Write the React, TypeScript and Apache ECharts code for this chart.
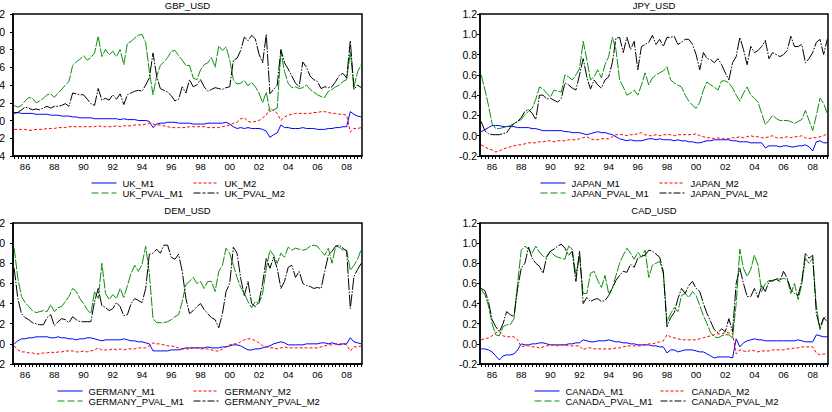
import React, { useEffect, useRef } from "react";
import * as echarts from "echarts";

// Quarterly observations, first one 1985Q2 (1985.25), last one 2009Q1 (2009.0)
const FIRST_OBS = 1985.25;
const N_OBS = 96;
const dates: number[] = Array.from({ length: N_OBS }, (_, i) => FIRST_OBS + i * 0.25);
const yearLabels = [1986, 1988, 1990, 1992, 1994, 1996, 1998, 2000, 2002, 2004, 2006, 2008];

// ---------------- GBP_USD ----------------
const UK_M1 = [
  0.09, 0.09, 0.08,
  0.08, 0.08, 0.08, 0.07,
  0.07, 0.07, 0.07, 0.06,
  0.06, 0.06, 0.05, 0.05,
  0.05, 0.04, 0.04, 0.03,
  0.03, 0.03, 0.03, 0.02,
  0.02, 0.02, 0.02, 0.02,
  0.02, 0.02, 0.01, 0.02,
  0.01, 0.01, 0.01, 0.0,
  0.0, 0.0, -0.01, -0.08,
  -0.04, -0.03, -0.03, -0.02,
  -0.02, -0.02, -0.03, -0.03,
  -0.03, -0.03, -0.04, -0.04,
  -0.04, -0.04, -0.03, -0.03,
  -0.03, -0.03, -0.03, -0.02,
  -0.04, -0.07, -0.09, -0.08,
  -0.09, -0.08, -0.09, -0.09,
  -0.09, -0.1, -0.12, -0.19,
  -0.16, -0.14, -0.05, -0.08,
  -0.08, -0.09, -0.09, -0.09,
  -0.08, -0.09, -0.09, -0.09,
  -0.1, -0.1, -0.1, -0.09,
  -0.09, -0.08, -0.08, -0.07,
  -0.07, 0.1, 0.07, 0.05,
  0.04,
];
const UK_M2 = [
  -0.1, -0.1, -0.1,
  -0.1, -0.11, -0.11, -0.1,
  -0.1, -0.1, -0.09, -0.09,
  -0.09, -0.08, -0.08, -0.08,
  -0.07, -0.07, -0.07, -0.07,
  -0.07, -0.07, -0.07, -0.07,
  -0.06, -0.07, -0.07, -0.07,
  -0.07, -0.06, -0.07, -0.06,
  -0.06, -0.06, -0.05, -0.05,
  -0.05, -0.04, -0.03, -0.04,
  -0.05, -0.05, -0.06, -0.07,
  -0.08, -0.08, -0.08, -0.08,
  -0.08, -0.07, -0.07, -0.07,
  -0.07, -0.07, -0.08, -0.08,
  -0.08, -0.08, -0.07, -0.06,
  -0.05, -0.03, -0.02, 0.02,
  0.03, -0.01, -0.02, -0.01,
  0.0, 0.03, 0.06, 0.14,
  0.11, 0.08, 0.0, 0.04,
  0.06, 0.07, 0.08, 0.08,
  0.08, 0.08, 0.08, 0.09,
  0.09, 0.1, 0.1, 0.09,
  0.08, 0.08, 0.07, 0.07,
  0.06, -0.13, -0.09, -0.09,
  -0.08,
];
const UK_PVAL_M1 = [
  0.17, 0.15, 0.17,
  0.22, 0.26, 0.25, 0.2,
  0.22, 0.25, 0.29, 0.3,
  0.26, 0.31, 0.35, 0.4,
  0.44, 0.62, 0.66, 0.69,
  0.73, 0.68, 0.71, 0.76,
  0.95, 0.72, 0.8, 0.74,
  0.78, 0.72, 0.8, 0.63,
  0.87, 0.89, 0.93, 0.96,
  0.97, 0.88, 0.55, 0.29,
  0.5, 0.62, 0.66, 0.71,
  0.78, 0.79, 0.73, 0.68,
  0.62, 0.62, 0.48, 0.46,
  0.57, 0.63, 0.65, 0.71,
  0.6, 0.84, 0.79, 0.83,
  0.68, 0.46, 0.41, 0.42,
  0.45, 0.39, 0.43, 0.38,
  0.31, 0.2, 0.32, 0.1,
  0.12, 0.14, 0.78, 0.55,
  0.42, 0.37, 0.38, 0.36,
  0.37, 0.4, 0.35, 0.32,
  0.29, 0.27, 0.26, 0.33,
  0.35, 0.38, 0.4, 0.44,
  0.46, 0.77, 0.38, 0.55,
  0.63,
];
const UK_PVAL_M2 = [
  0.08, 0.09, 0.12,
  0.15, 0.14, 0.12, 0.13,
  0.12, 0.14, 0.16, 0.14,
  0.16, 0.16, 0.17, 0.19,
  0.16, 0.31, 0.3, 0.29,
  0.29, 0.24, 0.19, 0.17,
  0.36, 0.23, 0.25, 0.23,
  0.29, 0.24, 0.3, 0.18,
  0.29, 0.31, 0.33, 0.34,
  0.33, 0.4, 0.48, 0.76,
  0.5, 0.36, 0.34, 0.32,
  0.28, 0.22, 0.24, 0.38,
  0.31, 0.46, 0.38, 0.4,
  0.46, 0.38, 0.33, 0.35,
  0.37, 0.36, 0.35, 0.37,
  0.38, 0.68, 0.7, 0.79,
  0.94, 0.9, 0.96, 0.92,
  0.75, 0.65, 0.97, 0.3,
  0.35, 0.4, 0.8, 0.65,
  0.58, 0.5, 0.42, 0.38,
  0.66, 0.6, 0.5, 0.46,
  0.44, 0.36, 0.38, 0.37,
  0.38, 0.44, 0.51, 0.53,
  0.48, 0.9, 0.35, 0.4,
  0.37,
];

// ---------------- JPY_USD ----------------
const JAPAN_M1 = [
  0.04, 0.06, 0.08,
  0.1, 0.1, 0.1, 0.09,
  0.09, 0.09, 0.09, 0.08,
  0.08, 0.08, 0.08, 0.07,
  0.07, 0.06, 0.05, 0.05,
  0.05, 0.05, 0.05, 0.05,
  0.04, 0.04, 0.03, 0.03,
  0.03, 0.02, 0.01, 0.02,
  0.03, 0.04, 0.03, 0.03,
  0.02, 0.01, -0.01, -0.03,
  -0.04, -0.05, -0.04, -0.05,
  -0.05, -0.05, -0.04, -0.03,
  -0.03, -0.04, -0.03, -0.04,
  -0.04, -0.04, -0.05, -0.04,
  -0.05, -0.05, -0.06, -0.06,
  -0.07, -0.07, -0.06, -0.05,
  -0.05, -0.04, -0.04, -0.04,
  -0.04, -0.04, -0.05, -0.05,
  -0.06, -0.06, -0.06, -0.07,
  -0.07, -0.07, -0.07, -0.12,
  -0.1, -0.1, -0.1, -0.11,
  -0.1, -0.1, -0.11, -0.11,
  -0.1, -0.1, -0.09, -0.11,
  -0.15, -0.06, -0.05, -0.07,
  -0.07,
];
const JAPAN_M2 = [
  -0.09, -0.11, -0.13,
  -0.14, -0.16, -0.15, -0.13,
  -0.12, -0.11, -0.1, -0.09,
  -0.09, -0.08, -0.07, -0.07,
  -0.07, -0.06, -0.06, -0.05,
  -0.05, -0.06, -0.05, -0.05,
  -0.05, -0.04, -0.04, -0.04,
  -0.03, -0.02, -0.01, -0.03,
  -0.04, -0.04, -0.03, -0.03,
  -0.03, -0.01, 0.01, 0.01,
  0.01, 0.0, 0.01, 0.01,
  0.02, 0.03, 0.01, 0.0,
  0.0, 0.01, 0.0, 0.01,
  0.01, 0.01, 0.0, 0.01,
  0.01, 0.01, 0.01, 0.01,
  0.02, 0.0, -0.01, -0.02,
  -0.02, -0.03, -0.02, -0.03,
  -0.03, -0.03, -0.02, -0.02,
  -0.01, -0.02, -0.01, 0.0,
  -0.01, -0.01, -0.02, -0.02,
  -0.01, 0.0, -0.02, -0.02,
  -0.02, -0.01, -0.02, -0.01,
  -0.01, 0.0, -0.02, -0.03,
  -0.02, -0.02, -0.01, 0.0,
  0.02,
];
const JAPAN_PVAL_M1 = [
  0.6, 0.46, 0.3,
  0.12, 0.07, 0.07, 0.08,
  0.09, 0.1, 0.12, 0.14,
  0.16, 0.21, 0.24, 0.27,
  0.36, 0.48, 0.46, 0.42,
  0.38, 0.45, 0.44, 0.43,
  0.6, 0.58, 0.55, 0.6,
  0.66, 0.93, 0.75, 0.55,
  0.58, 0.65, 0.57, 0.7,
  0.78, 0.97, 0.85, 0.55,
  0.48, 0.4, 0.42, 0.45,
  0.4, 0.5, 0.62, 0.5,
  0.57, 0.6, 0.62, 0.64,
  0.68, 0.55, 0.52, 0.5,
  0.48, 0.4, 0.34, 0.3,
  0.27, 0.33, 0.45, 0.53,
  0.5, 0.48, 0.45, 0.54,
  0.54, 0.52, 0.47, 0.4,
  0.34, 0.42, 0.48, 0.4,
  0.37, 0.33, 0.22, 0.11,
  0.15, 0.2, 0.17, 0.15,
  0.15, 0.15, 0.14, 0.12,
  0.14, 0.16, 0.25, 0.15,
  0.05, 0.2, 0.37, 0.32,
  0.22,
];
const JAPAN_PVAL_M2 = [
  0.14, 0.05, 0.02,
  0.01, 0.01, 0.01, 0.02,
  0.03, 0.08, 0.12, 0.14,
  0.18, 0.24, 0.26, 0.22,
  0.16, 0.4, 0.4, 0.36,
  0.37, 0.35, 0.33, 0.37,
  0.52, 0.5, 0.47, 0.45,
  0.6, 0.76, 0.58, 0.46,
  0.55, 0.5, 0.47, 0.55,
  0.58, 0.72, 0.96, 0.97,
  0.82, 0.97, 0.85, 0.93,
  0.65, 0.88, 0.9, 0.92,
  0.99, 0.9, 0.95, 0.88,
  0.97, 0.97, 0.98, 0.9,
  0.92, 0.95, 0.95, 0.9,
  0.8, 0.65, 0.82, 0.76,
  0.75, 0.72, 0.76, 0.7,
  0.62, 0.55, 0.72, 0.78,
  0.97, 0.85, 0.7, 0.88,
  0.82, 0.84, 0.88, 0.94,
  0.76, 0.82, 0.8, 0.78,
  0.8, 0.84, 0.98, 0.88,
  0.88, 0.9, 0.72, 0.76,
  0.82, 0.92, 0.95, 0.8,
  0.95,
];

// ---------------- DEM_USD ----------------
const GERMANY_M1 = [
  0.0, 0.03, 0.05,
  0.05, 0.06, 0.06, 0.07,
  0.07, 0.07, 0.07, 0.06,
  0.06, 0.07, 0.06, 0.06,
  0.05, 0.05, 0.04, 0.05,
  0.05, 0.06, 0.06, 0.05,
  0.04, 0.03, 0.04, 0.04,
  0.04, 0.04, 0.04, 0.05,
  0.04, 0.03, 0.03, 0.02,
  0.02, 0.01, 0.0, -0.07,
  -0.07, -0.07, -0.07, -0.07,
  -0.06, -0.06, -0.06, -0.05,
  -0.04, -0.04, -0.04, -0.04,
  -0.04, -0.04, -0.03, -0.04,
  -0.04, -0.04, -0.03, -0.03,
  -0.02, -0.01, -0.01, -0.02,
  -0.04, -0.06, -0.06, -0.05,
  -0.05, -0.04, -0.03, -0.02,
  0.0, 0.01, 0.02, 0.01,
  -0.01, -0.01, -0.01, -0.01,
  -0.01, 0.0, 0.0, 0.0,
  0.0, 0.01, 0.01, 0.0,
  0.01, 0.0, -0.01, 0.0,
  0.0, 0.06, 0.02, 0.01,
  0.0,
];
const GERMANY_M2 = [
  -0.02, -0.06, -0.08,
  -0.08, -0.09, -0.09, -0.1,
  -0.1, -0.09, -0.09, -0.08,
  -0.09, -0.08, -0.08, -0.07,
  -0.07, -0.07, -0.08, -0.08,
  -0.07, -0.08, -0.07, -0.06,
  -0.04, -0.06, -0.06, -0.06,
  -0.05, -0.06, -0.05, -0.06,
  -0.05, -0.05, -0.05, -0.04,
  -0.04, -0.04, -0.02, 0.01,
  0.0, 0.0, -0.01, -0.02,
  -0.02, -0.03, -0.04, -0.05,
  -0.05, -0.05, -0.04, -0.04,
  -0.05, -0.05, -0.05, -0.06,
  -0.07, -0.07, -0.05, -0.03,
  -0.01, 0.0, 0.0, 0.02,
  0.04, 0.05, 0.05, 0.03,
  0.01, -0.02, -0.03, -0.04,
  -0.04, -0.05, -0.04, -0.03,
  -0.04, -0.04, -0.04, -0.04,
  -0.04, -0.04, -0.04, -0.04,
  -0.04, -0.03, -0.02, -0.01,
  -0.01, 0.0, 0.0, 0.0,
  -0.01, -0.07, -0.03, -0.03,
  -0.02,
];
const GERMANY_PVAL_M1 = [
  0.95, 0.65, 0.47,
  0.41, 0.37, 0.33, 0.31,
  0.32, 0.33, 0.32, 0.39,
  0.32, 0.36, 0.37, 0.42,
  0.47, 0.55, 0.52, 0.45,
  0.4, 0.34, 0.3, 0.52,
  0.45, 0.8, 0.5, 0.44,
  0.49, 0.45, 0.55, 0.46,
  0.58, 0.7, 0.78, 0.72,
  0.79, 0.97, 0.7, 0.25,
  0.21, 0.21, 0.21, 0.22,
  0.24, 0.27, 0.29, 0.42,
  0.59, 0.62, 0.66, 0.6,
  0.62, 0.55, 0.62, 0.62,
  0.52, 0.72, 0.78, 0.95,
  0.9, 0.78, 0.66, 0.56,
  0.5, 0.42, 0.36, 0.42,
  0.4, 0.5, 0.75, 0.93,
  0.88, 0.8, 0.9, 0.86,
  0.96, 0.93, 0.95, 0.94,
  0.93, 0.94, 0.97, 0.98,
  0.97, 0.92, 0.88, 0.95,
  0.8, 0.97, 0.96, 0.93,
  0.93, 0.73, 0.78, 0.84,
  0.94,
];
const GERMANY_PVAL_M2 = [
  0.75, 0.45, 0.3,
  0.26, 0.24, 0.21, 0.2,
  0.19, 0.19, 0.26, 0.29,
  0.18, 0.22, 0.25, 0.24,
  0.21, 0.27, 0.24, 0.22,
  0.22, 0.22, 0.22, 0.42,
  0.55, 0.38, 0.36, 0.33,
  0.35, 0.41, 0.37, 0.28,
  0.29, 0.4, 0.45, 0.43,
  0.41, 0.55, 0.89, 0.9,
  0.94, 0.9, 0.98, 0.98,
  0.86, 0.84, 0.89, 0.72,
  0.45, 0.3, 0.33, 0.37,
  0.4, 0.34, 0.3, 0.26,
  0.24, 0.16, 0.3, 0.52,
  0.6, 0.96, 0.9, 0.65,
  0.48, 0.62, 0.4, 0.37,
  0.42, 0.6, 0.85, 0.75,
  0.86, 0.75, 0.55, 0.62,
  0.76, 0.78, 0.66, 0.72,
  0.6, 0.58, 0.57, 0.55,
  0.56, 0.55, 0.72, 0.88,
  0.92, 0.97, 0.98, 0.95,
  0.92, 0.35, 0.67, 0.74,
  0.8,
];

// ---------------- CAD_USD ----------------
const CANADA_M1 = [
  -0.05, -0.05, -0.06,
  -0.08, -0.12, -0.16, -0.12,
  -0.11, -0.11, -0.1, -0.06,
  0.0, -0.01, -0.01, 0.0,
  0.0, 0.01, 0.01, 0.0,
  -0.01, -0.01, -0.01, -0.01,
  -0.01, 0.0, 0.0, 0.01,
  0.01, 0.04, 0.03, 0.02,
  0.02, 0.03, 0.03, 0.03,
  0.04, 0.03, 0.02, 0.02,
  0.01, 0.01, 0.0, 0.0,
  -0.01, -0.01, -0.01, -0.01,
  -0.02, -0.02, -0.03, -0.03,
  -0.09, -0.06, -0.06, -0.08,
  -0.07, -0.06, -0.06, -0.06,
  -0.07, -0.08, -0.08, -0.1,
  -0.12, -0.14, -0.13, -0.13,
  -0.13, -0.13, -0.14, 0.05,
  -0.03, 0.01, 0.03, 0.04,
  0.05, 0.04, 0.04, 0.03,
  0.03, 0.03, 0.03, 0.03,
  0.03, 0.03, 0.03, 0.03,
  0.04, 0.03, 0.02, 0.02,
  0.02, 0.09, 0.08, 0.07,
  0.07,
];
const CANADA_M2 = [
  0.04, 0.05, 0.06,
  0.08, 0.11, 0.12, 0.08,
  0.07, 0.07, 0.07, 0.04,
  -0.03, -0.02, -0.02, -0.03,
  -0.03, -0.04, -0.03, -0.02,
  -0.01, -0.01, -0.02, -0.01,
  -0.01, -0.02, -0.02, -0.02,
  -0.02, -0.06, -0.04, -0.04,
  -0.05, -0.05, -0.05, -0.05,
  -0.05, -0.05, -0.04, -0.04,
  -0.03, -0.02, -0.02, -0.02,
  -0.02, -0.02, -0.01, 0.0,
  0.0, 0.01, 0.02, 0.03,
  0.09, 0.07, 0.06, 0.05,
  0.04, 0.04, 0.04, 0.04,
  0.04, 0.05, 0.06, 0.07,
  0.08, 0.09, 0.1, 0.1,
  0.11, 0.11, 0.1, -0.1,
  -0.06, -0.07, -0.08, -0.06,
  -0.07, -0.08, -0.07, -0.07,
  -0.07, -0.06, -0.06, -0.06,
  -0.06, -0.05, -0.05, -0.04,
  -0.04, -0.03, -0.03, -0.03,
  -0.03, -0.09, -0.11, -0.1,
  -0.1,
];
const CANADA_PVAL_M1 = [
  0.54, 0.49, 0.38,
  0.2, 0.09, 0.08, 0.17,
  0.19, 0.19, 0.25, 0.6,
  0.93, 0.97, 0.94, 0.9,
  0.97, 0.91, 0.87, 0.86,
  0.92, 0.88, 0.86, 0.85,
  0.84, 0.97, 0.94, 0.68,
  0.88, 0.5, 0.5, 0.7,
  0.72, 0.63, 0.56, 0.68,
  0.5, 0.55, 0.68, 0.8,
  0.88, 0.95, 0.9, 0.84,
  0.91, 0.86, 0.93, 0.66,
  0.78, 0.8, 0.82, 0.7,
  0.22, 0.3, 0.36, 0.32,
  0.48, 0.5, 0.46, 0.52,
  0.48, 0.38, 0.28, 0.2,
  0.11, 0.07, 0.06, 0.08,
  0.09, 0.09, 0.06, 0.4,
  0.94, 0.75, 0.67, 0.74,
  0.88, 0.78, 0.52, 0.6,
  0.63, 0.62, 0.65, 0.64,
  0.65, 0.64, 0.5, 0.6,
  0.44, 0.59, 0.85, 0.8,
  0.85, 0.38, 0.14, 0.25,
  0.28,
];
const CANADA_PVAL_M2 = [
  0.55, 0.53, 0.42,
  0.24, 0.17, 0.12, 0.2,
  0.32, 0.29, 0.27, 0.55,
  0.75, 0.8, 0.96, 0.85,
  0.8, 0.77, 0.7, 0.87,
  0.92, 0.94, 0.97, 0.99,
  0.95, 0.88, 0.92, 0.62,
  0.92, 0.4, 0.46, 0.42,
  0.44, 0.45, 0.42, 0.43,
  0.48, 0.55, 0.63, 0.68,
  0.72, 0.71, 0.79, 0.76,
  0.85, 0.87, 0.88, 0.93,
  0.92, 0.89, 0.86, 0.72,
  0.17, 0.26, 0.31, 0.45,
  0.55, 0.5, 0.58, 0.62,
  0.55, 0.52, 0.4, 0.3,
  0.22, 0.14, 0.11, 0.15,
  0.12, 0.25, 0.12, 0.6,
  0.75, 0.6, 0.47, 0.47,
  0.55, 0.46, 0.58, 0.52,
  0.62, 0.63, 0.64, 0.62,
  0.72, 0.65, 0.54, 0.5,
  0.48, 0.62, 0.9, 0.85,
  0.88, 0.3, 0.16, 0.26,
  0.22,
];

const panels = [
  { title: "GBP_USD", prefix: "UK", m1: UK_M1, m2: UK_M2, p1: UK_PVAL_M1, p2: UK_PVAL_M2, yMin: -0.4 },
  { title: "JPY_USD", prefix: "JAPAN", m1: JAPAN_M1, m2: JAPAN_M2, p1: JAPAN_PVAL_M1, p2: JAPAN_PVAL_M2, yMin: -0.2 },
  { title: "DEM_USD", prefix: "GERMANY", m1: GERMANY_M1, m2: GERMANY_M2, p1: GERMANY_PVAL_M1, p2: GERMANY_PVAL_M2, yMin: -0.2 },
  { title: "CAD_USD", prefix: "CANADA", m1: CANADA_M1, m2: CANADA_M2, p1: CANADA_PVAL_M1, p2: CANADA_PVAL_M2, yMin: -0.2 },
];

// layout (pixels)
const layout = [
  { left: 13, top: 14, width: 349, height: 142, legendLeft: [91, 193], legendTop: 178, titleY: 5, labelMargin: 8 },
  { left: 480, top: 14, width: 348, height: 142, legendLeft: [540, 659], legendTop: 178, titleY: 5, labelMargin: 3 },
  { left: 13, top: 223, width: 349, height: 141, legendLeft: [57, 193], legendTop: 386, titleY: 210.5, labelMargin: 8 },
  { left: 480, top: 223, width: 348, height: 141, legendLeft: [534, 660], legendTop: 386, titleY: 210.5, labelMargin: 3 },
];

const X_MIN = 1985.17;
const X_MAX = 2009.05;
const FONT = "'Liberation Sans', Arial, sans-serif";

// plot dash patterns (dense data makes the original look almost solid) and legend sample patterns
const styles = {
  m1: { color: "#0000ff", type: "solid" as any, legendType: "solid" as any },
  m2: { color: "#ff0000", type: [3, 2] as any, legendType: [3, 2] as any },
  p1: { color: "#0a8f0a", type: [10, 1.5] as any, legendType: [7, 3] as any },
  p2: { color: "#000000", type: [12, 1.5, 1.5, 1.5] as any, legendType: [7, 2, 3, 2] as any },
};

export default function App() {
  const ref = useRef<HTMLDivElement>(null);

  useEffect(() => {
    if (!ref.current) return;
    const chart = echarts.init(ref.current, undefined, { renderer: "svg" });

    const grid: any[] = [];
    const xAxis: any[] = [];
    const yAxis: any[] = [];
    const series: any[] = [];
    const legend: any[] = [];
    const graphic: any[] = [];

    panels.forEach((p, i) => {
      const l = layout[i];
      grid.push({
        left: l.left,
        top: l.top,
        width: l.width,
        height: l.height,
        show: true,
        borderColor: "#000",
        borderWidth: 1.5,
        backgroundColor: "transparent",
        containLabel: false,
        outerBoundsMode: "none",
      });
      xAxis.push({
        type: "value",
        gridIndex: i,
        min: X_MIN,
        max: X_MAX,
        axisLine: { show: true, onZero: false, lineStyle: { color: "#000", width: 1.5 } },
        axisTick: {
          show: true,
          customValues: dates,
          length: 3,
          lineStyle: { color: "#000", width: 1 },
        },
        axisLabel: {
          customValues: yearLabels,
          formatter: (v: number) => String(Math.round(v) % 100).padStart(2, "0"),
          color: "#000",
          fontSize: 9.5,
          fontFamily: FONT,
          margin: 5,
        },
        splitLine: { show: false },
      });
      yAxis.push({
        type: "value",
        gridIndex: i,
        min: p.yMin,
        max: 1.2,
        interval: 0.2,
        axisLine: { show: true, onZero: false, lineStyle: { color: "#000", width: 1.5 } },
        axisTick: { show: true, length: 3, lineStyle: { color: "#000", width: 1 } },
        axisLabel: {
          formatter: (v: number) => (Math.abs(v) < 1e-9 ? "0.0" : v.toFixed(1)),
          color: "#000",
          fontSize: 10.5,
          fontFamily: FONT,
          margin: l.labelMargin,
        },
        splitLine: { show: false },
      });
      const names = {
        m1: `${p.prefix}_M1`,
        m2: `${p.prefix}_M2`,
        p1: `${p.prefix}_PVAL_M1`,
        p2: `${p.prefix}_PVAL_M2`,
      };
      (["m1", "m2", "p1", "p2"] as const).forEach((k) => {
        const vals = (p as any)[k] as number[];
        series.push({
          name: names[k],
          type: "line",
          xAxisIndex: i,
          yAxisIndex: i,
          symbol: "none",
          showSymbol: false,
          silent: true,
          data: dates.map((d, j) => [d, vals[j]]),
          lineStyle: { color: styles[k].color, width: 1, type: styles[k].type },
          itemStyle: { color: styles[k].color },
        });
      });
      [
        ["m1", "p1"],
        ["m2", "p2"],
      ].forEach((col, c) => {
        legend.push({
          orient: "vertical",
          left: l.legendLeft[c],
          top: l.legendTop,
          padding: 0,
          itemGap: 0,
          itemWidth: 25,
          itemHeight: 9.5,
          selectedMode: false,
          itemStyle: { opacity: 0 },
          data: col.map((k) => ({
            name: (names as any)[k],
            lineStyle: { type: (styles as any)[k].legendType, width: 1, color: (styles as any)[k].color },
          })),
          textStyle: { color: "#000", fontSize: 9.5, fontFamily: FONT, lineHeight: 9.5, padding: [0, 0, 0, 1] },
        });
      });
      graphic.push({
        type: "text",
        x: l.left + l.width / 2,
        y: l.titleY,
        style: {
          text: p.title,
          align: "center",
          verticalAlign: "middle",
          fill: "#000",
          font: `9.5px ${FONT}`,
        },
      });
    });

    chart.setOption({
      animation: false,
      backgroundColor: "#ffffff",
      grid,
      xAxis,
      yAxis,
      series,
      legend,
      graphic,
    });

    return () => chart.dispose();
  }, []);

  return (
    <div
      ref={ref}
      style={{ position: "fixed", left: 0, top: 0, width: 832, height: 412, background: "#fff" }}
    />
  );
}
